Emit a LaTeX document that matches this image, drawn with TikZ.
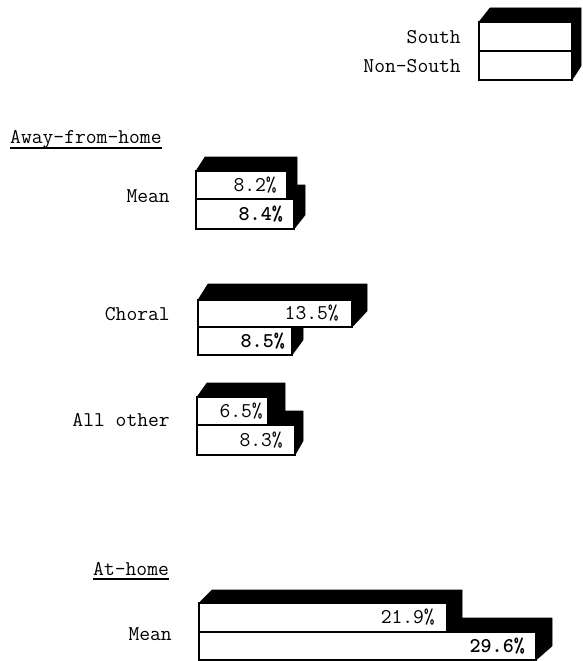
\documentclass[tikz,border=0pt]{standalone}
\usepackage{fontspec}
\begin{document}
\begin{tikzpicture}[x=1pt,y=-1pt,
  every node/.style={font=\ttfamily\fontsize{21}{23}\selectfont, inner sep=0pt},
  front/.style={draw=black, fill=white, line width=1.2pt},
  shade3d/.style={fill=black, draw=black, line width=0.6pt, line join=round},
  lbl/.style={anchor=east},
  val/.style={anchor=east},
  ul/.style={line width=1.2pt}]
\useasboundingbox (0,0) rectangle (582,661);
% #1 x0, #2 ytop, #3 x1, #4 ybot, #5 dxl, #6 dxr, #7 dy
\def\depthbox#1#2#3#4#5#6#7{%
  \fill[shade3d] (#1,#2) -- ({#1+#5},{#2-#7}) -- ({#3+#6},{#2-#7}) -- ({#3+#6},{#4-#7}) -- (#3,#4) -- (#1,#4) -- cycle;
  \draw[front] (#1,#2) rectangle (#3,#4);}

% legend
\depthbox{479}{22}{572}{80}{11}{9}{14}
\draw[front] (479,51) -- (572,51);
\node[lbl] (south) at (461,37) {South};
\node[lbl] (nonsouth) at (461,66) {Non-South};

% Away-from-home heading
\node[anchor=base west] (away) at (10,143) {Away-from-home};
\draw[ul] ([yshift=-5pt]away.base west) -- ([yshift=-5pt]away.base east);

% Mean (away)
\depthbox{196}{199}{294}{229}{9}{11}{14}
\node[val] (m2) at (283,214) {\bfseries 8.4\%};
\depthbox{196}{171}{287}{199}{9}{10}{14}
\node[val] (m1) at (277,185) {8.2\%};
\node[lbl] (meanA) at (170,196) {Mean};

% Choral
\depthbox{198}{327}{292}{355}{10}{11}{15}
\node[val] (c2) at (285,341) {\bfseries 8.5\%};
\depthbox{198}{300}{352}{327}{10}{15}{16}
\node[val] (c1) at (339,313) {13.5\%};
\node[lbl] (choral) at (170,314) {Choral};

% All other
\depthbox{197}{425}{295}{455}{10}{8}{14}
\node[val] (o2) at (283,440) {8.3\%};
\depthbox{197}{397}{268}{425}{10}{17}{14}
\node[val] (o1) at (263,411) {6.5\%};
\node[lbl] (allother) at (170,420) {All other};

% At-home heading
\node[anchor=base west] (athome) at (93,575) {At-home};
\draw[ul] ([yshift=-4pt]athome.base west) -- ([yshift=-4pt]athome.base east);

% Mean (at-home)
\depthbox{199}{632}{536}{660}{13}{16}{14}
\node[val] (h2) at (525,646) {\bfseries 29.6\%};
\depthbox{199}{603}{447}{632}{13}{15}{13}
\node[val] (h1) at (435,617) {21.9\%};
\node[lbl] (meanH) at (172,634) {Mean};
\end{tikzpicture}
\end{document}
